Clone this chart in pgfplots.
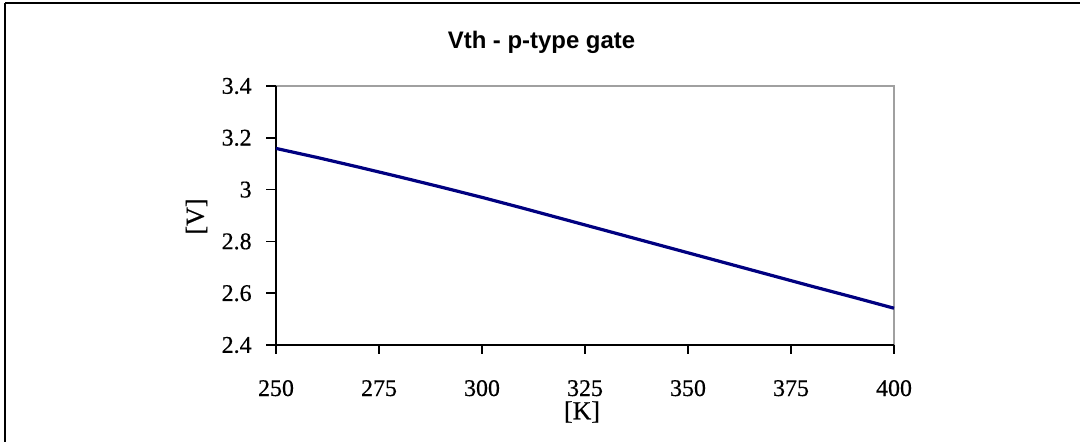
\documentclass[border=0pt]{standalone}
\usepackage{pgfplots}
\pgfplotsset{compat=1.18}
\usepackage{fontspec}
\setmainfont{Liberation Serif}
\newfontfamily\arialf{Liberation Sans}
\newfontfamily\labelfont{Liberation Serif}[FakeBold=0.5]

\definecolor{vthblue}{HTML}{000080}
\definecolor{frameGrey}{HTML}{A0A0A0}

\begin{document}
\begin{tikzpicture}[x=1bp,y=1bp]
  % page extent
  \path[use as bounding box] (0,0) rectangle (540,220.5);

  % chart area border
  \draw[black, line width=1bp] (2.65,218.85) -- (545,218.85);
  \draw[black, line width=1bp] (2.65,218.85) -- (2.65,-5);

  \begin{axis}[
    at={(138bp,48bp)}, anchor=south west,
    scale only axis,
    width=309bp, height=129.5bp,
    xmin=250, xmax=400, ymin=2.4, ymax=3.4,
    xtick={250,275,...,400},
    ytick={2.4,2.6,2.8,3,3.2,3.4},
    axis line style={draw=none},
    tick align=inside,
    major tick length=0pt,
    tick style={draw=none},
    /pgf/number format/assume math mode=true,
    /pgf/number format/fixed,
    ticklabel style={font=\labelfont\fontsize{12}{13}\selectfont, inner sep=0pt},
    yticklabel style={anchor=east, xshift=-12bp},
    xticklabel style={anchor=base, yshift=-25.5bp},
    clip=false,
  ]
    % plot-area border: grey top and right, black axes left and bottom
    \draw[frameGrey, line width=0.9bp] (axis cs:250,3.4) -- (axis cs:400,3.4) -- (axis cs:400,2.4);
    \draw[black, line width=0.9bp] (axis cs:250,3.4) -- (axis cs:250,2.4) -- (axis cs:400,2.4);
    % outward ticks
    \pgfplotsinvokeforeach{2.4,2.6,2.8,3.0,3.2,3.4}{
      \draw[black, line width=0.75bp] (axis cs:250,#1) -- ++(-5bp,0bp);
    }
    \pgfplotsinvokeforeach{250,275,300,325,350,375,400}{
      \draw[black, line width=0.75bp] (axis cs:#1,2.4) -- ++(0bp,-4.5bp);
    }

    \addplot[vthblue, line width=1.6bp, mark=none] coordinates {
      (250,3.159) (260,3.124) (270,3.087) (280,3.049) (290,3.010)
      (300,2.970) (310,2.928) (320,2.885) (330,2.842) (340,2.799)
      (350,2.756) (360,2.713) (370,2.670) (380,2.627) (390,2.585)
      (400,2.542)
    };
  \end{axis}

  % title and axis titles
  \node[anchor=base, font=\arialf\bfseries\fontsize{12}{14}\selectfont, inner sep=0pt]
    at (270.75,196.35) {Vth - p-type gate};
  \node[rotate=90, font=\labelfont\fontsize{13}{14}\selectfont, inner sep=0pt]
    at (98.25,112.25) {[V]};
  \node[font=\labelfont\fontsize{13}{14}\selectfont, inner sep=0pt]
    at (291,14.5) {[K]};
\end{tikzpicture}
\end{document}
